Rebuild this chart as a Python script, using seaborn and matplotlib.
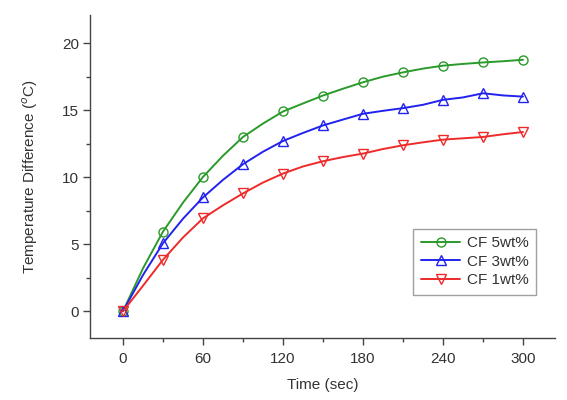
import matplotlib
matplotlib.use("Agg")
import matplotlib.pyplot as plt
import seaborn as sns
import numpy as np
from matplotlib.ticker import MultipleLocator

sns.set_style("ticks")
plt.rcParams['font.family'] = ['Liberation Sans', 'DejaVu Sans']

time_sec = [0, 15, 30, 45, 60, 75, 90, 105, 120, 135, 150, 165, 180, 195, 210, 225, 240, 255, 270, 285, 300]
cf5 = [0, 3.2, 5.94, 8.1, 10.02, 11.6, 13.0, 14.0, 14.9, 15.5, 16.09, 16.6, 17.08, 17.5, 17.82, 18.1, 18.32, 18.45, 18.56, 18.65, 18.76]
cf3 = [0, 2.7, 5.07, 6.9, 8.49, 9.8, 10.97, 11.9, 12.70, 13.3, 13.86, 14.3, 14.73, 14.95, 15.15, 15.4, 15.77, 15.95, 16.26, 16.1, 16.01]
cf1 = [0, 1.9, 3.84, 5.5, 6.93, 7.9, 8.79, 9.6, 10.27, 10.8, 11.19, 11.5, 11.76, 12.1, 12.38, 12.6, 12.80, 12.9, 13.0, 13.2, 13.37]
labels = ["CF 5wt%", "CF 3wt%", "CF 1wt%"]
colors = ["#2a9a2a", "#2222ee", "#ee2a2a"]
markers = ["o", "^", "v"]

fig = plt.figure(figsize=(5.67, 4.0), dpi=100)
ax = fig.add_axes([90/567, 62/400, 465/567, 323/400])

for ys, lab, c, m in zip([cf5, cf3, cf1], labels, colors, markers):
    sns.lineplot(x=time_sec, y=ys, ax=ax, color=c, marker=m, markevery=2,
                 markersize=6.5, markerfacecolor='none', markeredgecolor=c,
                 markeredgewidth=1.0, linewidth=1.4, label=lab)

ax.set_xlim(-24.75, 324)
ax.set_ylim(-2.0, 22.1)
ax.xaxis.set_major_locator(MultipleLocator(60))
ax.xaxis.set_minor_locator(MultipleLocator(30))
ax.yaxis.set_major_locator(MultipleLocator(5))
ax.yaxis.set_minor_locator(MultipleLocator(2.5))
ax.tick_params(which='major', length=5, width=1, color='#444444', labelsize=11, labelcolor='#333333', direction='out', pad=3)
ax.tick_params(axis='x', which='major', pad=5)
ax.tick_params(which='minor', length=3, width=1, color='#444444', direction='out')
for s in ['top', 'right']:
    ax.spines[s].set_visible(False)
for s in ['left', 'bottom']:
    ax.spines[s].set_color('#444444')
    ax.spines[s].set_linewidth(1.0)

ax.set_xlabel("Time (sec)", fontsize=11, color='#333333', labelpad=9)
ax.set_ylabel("Temperature Difference ($^o$C)", fontsize=11, color='#333333', labelpad=16)

leg = ax.legend(loc='lower right', bbox_to_anchor=(0.959, 0.133), borderaxespad=0, fontsize=11,
                frameon=True, fancybox=False, edgecolor='#888888',
                handlelength=2.6, borderpad=0.5, labelspacing=0.3, handletextpad=0.4)
leg.get_frame().set_linewidth(1.0)
for t in leg.get_texts():
    t.set_color('#333333')

fig.savefig("out.png", dpi=100)
